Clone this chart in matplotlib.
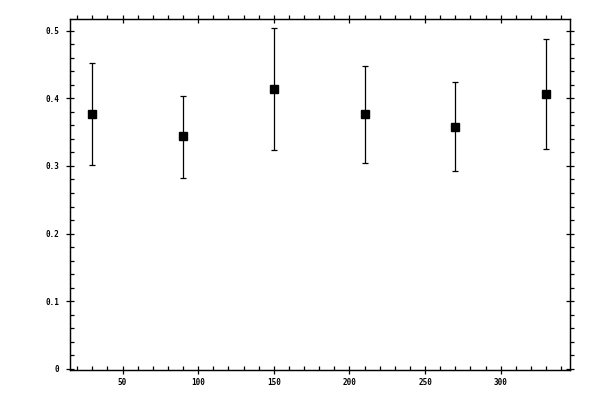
import matplotlib
matplotlib.use('Agg')
import matplotlib.pyplot as plt
import numpy as np
from matplotlib.ticker import MultipleLocator

# values
angles = [30, 90, 150, 210, 270, 330]
values = [0.376, 0.344, 0.414, 0.376, 0.358, 0.407]
upper = [0.452, 0.404, 0.504, 0.448, 0.424, 0.488]
lower = [0.301, 0.282, 0.323, 0.304, 0.292, 0.325]

x_ticks = [50, 100, 150, 200, 250, 300]
x_labels = ['50', '100', '150', '200', '250', '300']
y_ticks = [0, 0.1, 0.2, 0.3, 0.4, 0.5]
y_labels = ['0', '0.1', '0.2', '0.3', '0.4', '0.5']

plt.rcParams['font.family'] = ['DejaVu Sans Mono']
plt.rcParams['font.weight'] = 'bold'

fig = plt.figure(figsize=(6, 4), dpi=100)
ax = fig.add_axes([0.116, 0.0743, 0.8345, 0.878])

vals = np.array(values)
yerr = [vals - np.array(lower), np.array(upper) - vals]
ax.errorbar(angles, values, yerr=yerr, fmt='s', color='black', ms=5.3,
	elinewidth=0.9, capsize=2.2, capthick=0.9)

xlim = (15, 346)
ylim = (-0.002, 0.517)
ax.set_xlim(*xlim)
ax.set_ylim(*ylim)
ax.set_xticks(x_ticks, x_labels)
ax.set_yticks(y_ticks, y_labels)
ax.xaxis.set_minor_locator(MultipleLocator(10))
ax.yaxis.set_minor_locator(MultipleLocator(0.02))
for s in ax.spines.values():
	s.set_linewidth(0.9)

ax.tick_params(which='major', direction='inout', length=5.5, width=0.9,
	top=False, right=False, labelsize=5.5)
ax.tick_params(which='minor', direction='in', length=2.7, width=0.9,
	top=False, right=False)
ax.tick_params(axis='y', pad=4.5)
ax.tick_params(axis='x', pad=3)

# right and top ticks: minor ones point outward there
axr = ax.twinx()
axr.set_ylim(*ylim)
axr.set_yticks(y_ticks)
axr.yaxis.set_minor_locator(MultipleLocator(0.02))
axr.tick_params(which='major', direction='inout', length=5.5, width=0.9, labelright=False)
axr.tick_params(which='minor', direction='out', length=2.7, width=0.9)

axt = ax.twiny()
axt.set_xlim(*xlim)
axt.set_xticks(x_ticks)
axt.xaxis.set_minor_locator(MultipleLocator(10))
axt.tick_params(which='major', direction='inout', length=5.5, width=0.9, labeltop=False)
axt.tick_params(which='minor', direction='out', length=2.7, width=0.9)

fig.savefig('out.png', dpi=100)
